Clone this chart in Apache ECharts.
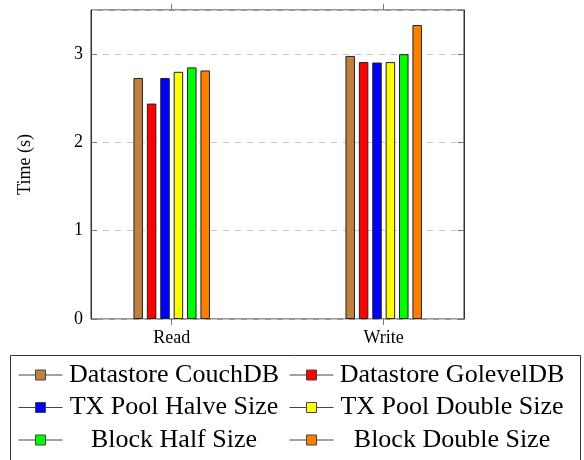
<!DOCTYPE html>
<html>
<head>
<meta charset="utf-8">
<script src="https://cdn.jsdelivr.net/npm/echarts@6/dist/echarts.min.js"></script>
<style>
  html, body { margin: 0; padding: 0; background: #fff; }
  #chart { width: 584px; height: 460px; }
</style>
</head>
<body>
<div id="chart"></div>
<script>
const categories = ['Read', 'Write'];
const seriesNames = [
  'Datastore CouchDB', 'Datastore GolevelDB',
  'TX Pool Halve Size', 'TX Pool Double Size',
  'Block Half Size', 'Block Double Size'
];
const couchDB = [2.73, 2.98];
const golevelDB = [2.44, 2.91];
const txHalve = [2.73, 2.905];
const txDouble = [2.80, 2.91];
const blockHalf = [2.85, 3.0];
const blockDouble = [2.815, 3.33];
const yTicks = [0, 1, 2, 3];

const values = [couchDB, golevelDB, txHalve, txDouble, blockHalf, blockDouble];
const colors = ['#bf8040', '#ff0000', '#0000ff', '#ffff00', '#00ff00', '#ff8000'];
const font = 'Liberation Serif';

const chart = echarts.init(document.getElementById('chart'));

// line + square marker, like the pgfplots legend image
const legendIcon = 'path://M0 5H17M27 5H44M17 0H27V10H17Z';
const legendCol = (names, left, cellWidth) => ({
  orient: 'vertical',
  left: left,
  top: 362,
  padding: 0,
  itemGap: 6.5,
  itemWidth: 45,
  itemHeight: 10,
  itemTextGap: 7,
  icon: legendIcon,
  selectedMode: false,
  itemStyle: { borderColor: '#444', borderWidth: 1 },
  data: names,
  formatter: (name) => `{t|${name}}`,
  textStyle: {
    rich: {
      t: { fontFamily: font, fontSize: 26, color: '#000', width: cellWidth, align: 'center', lineHeight: 26 }
    }
  }
});

chart.setOption({
  animation: false,
  grid: [
    { left: 91, right: 120, top: 10, bottom: 141, show: true, borderColor: '#333', borderWidth: 1 },
    { left: 65.7, right: 94.3, top: 10, bottom: 141 }
  ],
  xAxis: [
    { type: 'value', gridIndex: 0, show: false, min: 0, max: 1 },
    {
      type: 'category', gridIndex: 1, data: categories, position: 'bottom',
      axisLine: { show: false },
      axisTick: { show: true, alignWithLabel: true, length: 6, lineStyle: { color: '#777' } },
      axisLabel: { fontFamily: font, fontSize: 18, color: '#000', margin: 10 }
    },
    {
      type: 'category', gridIndex: 1, data: categories, position: 'top',
      axisLine: { show: false },
      axisTick: { show: true, alignWithLabel: true, length: 6, lineStyle: { color: '#777' } },
      axisLabel: { show: false }
    }
  ],
  yAxis: [
    {
      type: 'value', gridIndex: 0, min: 0, max: 3.5, interval: 1,
      name: 'Time (s)', nameLocation: 'middle', nameGap: 57, nameRotate: 90,
      nameTextStyle: { fontFamily: font, fontSize: 18, color: '#000' },
      axisLine: { show: true, lineStyle: { color: '#333' } },
      axisTick: { show: true, inside: true, length: 6, lineStyle: { color: '#777' } },
      axisLabel: {
        fontFamily: font, fontSize: 18, color: '#000', margin: 8, showMaxLabel: false,
        formatter: (v) => (yTicks.includes(v) ? String(v) : '')
      },
      splitLine: { show: true, lineStyle: { color: '#c8c8c8', type: [6, 6], width: 1 } }
    },
    {
      type: 'value', gridIndex: 0, min: 0, max: 3.5, interval: 1, position: 'right',
      axisLine: { show: true, lineStyle: { color: '#333' } },
      axisTick: { show: true, inside: true, length: 6, lineStyle: { color: '#777' } },
      axisLabel: { show: false },
      splitLine: { show: false }
    },
    { type: 'value', gridIndex: 1, min: 0, max: 3.5, show: false }
  ],
  legend: [
    legendCol([seriesNames[0], seriesNames[2], seriesNames[4]], 18, 212),
    legendCol([seriesNames[1], seriesNames[3], seriesNames[5]], 289, 226)
  ],
  graphic: [{
    type: 'rect',
    shape: { x: 10.5, y: 355.5, width: 570, height: 120 },
    style: { fill: 'none', stroke: '#333', lineWidth: 1 }
  }],
  series: seriesNames.map((name, i) => ({
    name: name,
    type: 'bar',
    xAxisIndex: 1,
    yAxisIndex: 2,
    data: values[i],
    barWidth: 9.5,
    barGap: '41%',
    itemStyle: { color: colors[i], borderColor: '#222', borderWidth: 1 }
  }))
});
</script>
</body>
</html>
